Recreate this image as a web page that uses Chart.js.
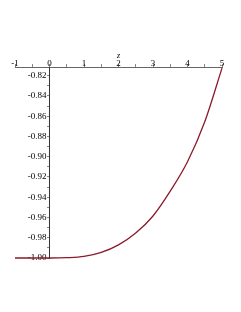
<!DOCTYPE html>
<html>
<head>
<meta charset="utf-8">
<script src="https://cdn.jsdelivr.net/npm/chart.js@4"></script>
<style>
  html, body { margin: 0; padding: 0; background: #fff; }
  #wrap { width: 241px; height: 312px; }
</style>
</head>
<body>
<div id="wrap"><canvas id="plot"></canvas></div>
<script>
// values
const zValues = [-1, -0.5, 0, 0.5, 1, 1.5, 2, 2.5, 3, 3.5, 4, 4.5, 5];
const curveValues = [-1.000, -1.000, -1.000, -0.9997, -0.9985, -0.9945, -0.9870, -0.9753, -0.9585, -0.9340, -0.9050, -0.8655, -0.8125];
const xTickLabels = ["-1", "0", "1", "2", "3", "4", "5"];
const yTickLabels = ["-0.82", "-0.84", "-0.86", "-0.88", "-0.90", "-0.92", "-0.94", "-0.96", "-0.98", "-1.00"];

const serif = "'Liberation Serif', 'DejaVu Serif', serif";

document.addEventListener("DOMContentLoaded", function () {
  const points = zValues.map((z, i) => ({ x: z, y: curveValues[i] }));

  new Chart(document.getElementById("plot"), {
    type: "line",
    data: {
      datasets: [{
        data: points,
        borderColor: "#8c1a2a",
        borderWidth: 1.3,
        pointRadius: 0,
        cubicInterpolationMode: "monotone",
        fill: false,
        clip: 4
      }]
    },
    options: {
      responsive: true,
      maintainAspectRatio: false,
      animation: false,
      layout: { padding: { left: 15, right: 19, top: 52, bottom: 54 } },
      plugins: { legend: { display: false }, tooltip: { enabled: false } },
      scales: {
        x: {
          type: "linear",
          position: "top",
          min: -1,
          max: 5,
          title: {
            display: true,
            text: "z",
            color: "#000",
            padding: { top: 0, bottom: 3 },
            font: { family: serif, size: 8, style: "italic", lineHeight: 1 }
          },
          border: { display: true, color: "#666", width: 1 },
          grid: { drawOnChartArea: false, drawTicks: true, tickLength: 3, color: "#888" },
          ticks: {
            stepSize: 0.5,
            autoSkip: false,
            maxRotation: 0,
            padding: -4,
            color: "#000",
            font: { family: serif, size: 9, lineHeight: 1 },
            callback: (v) => {
              const idx = Math.round(v) + 1;
              return Number.isInteger(v) ? xTickLabels[idx] : "";
            }
          }
        },
        y: {
          type: "linear",
          position: { x: 0 },
          min: -1.0,
          max: -0.8114,
          border: { display: true, color: "#333", width: 1 },
          grid: { drawOnChartArea: false, drawTicks: true, tickLength: 2, color: "#888" },
          ticks: {
            stepSize: 0.01,
            includeBounds: false,
            autoSkip: false,
            color: "#000",
            font: { family: serif, size: 9, lineHeight: 1 },
            callback: (v) => {
              const h = Math.round(-v * 100);
              if (Math.abs(-v * 100 - h) > 1e-6 || h % 2 !== 0) return "";
              // trailing space keeps the label off the axis line
              return yTickLabels[(h - 82) / 2] + "\u2004";
            }
          }
        }
      }
    }
  });
});
</script>
</body>
</html>
